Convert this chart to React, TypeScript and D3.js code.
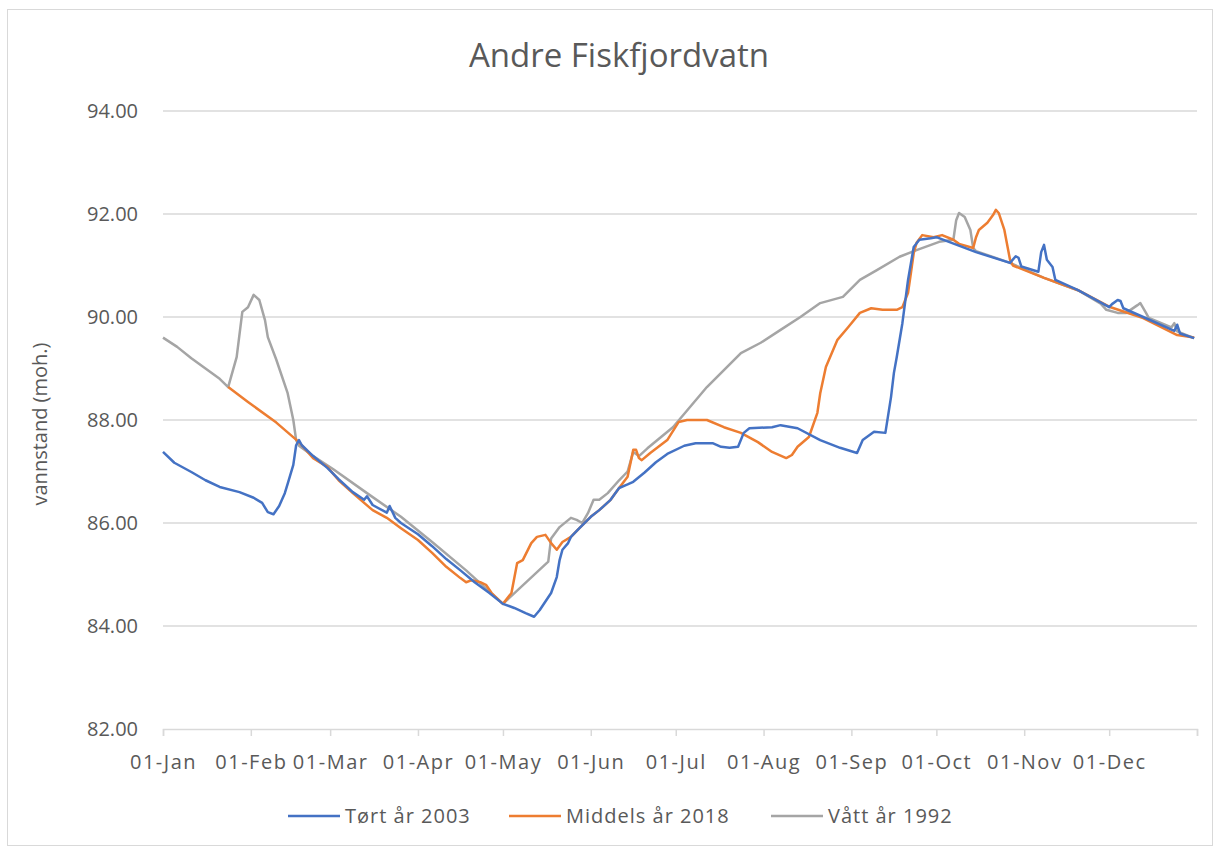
import React, { useRef, useEffect } from 'react';
import * as d3 from 'd3';

// day of year (0 = 01-Jan) and water level (moh.)
const tortDays = [0, 4, 10, 15, 20, 27, 32, 35, 37, 39, 41, 43, 44, 46, 47, 48, 49, 53, 58, 62, 67, 71, 72, 74, 79, 80, 82, 84, 90, 95, 100, 105, 110, 115, 120, 124, 128, 131, 133, 137, 139, 140, 141, 143, 144, 147, 151, 154, 158, 161, 164, 166, 170, 174, 178, 184, 188, 194, 197, 200, 203, 205, 207, 215, 218, 224, 232, 239, 245, 247, 251, 255, 257, 258, 259, 261, 263, 265, 267, 271, 273, 287, 299, 301, 302, 303, 309, 310, 311, 312, 314, 315, 323, 334, 335, 337, 338, 339, 346, 357, 358, 359, 364];
const tortLevels = [87.38, 87.17, 86.99, 86.83, 86.7, 86.6, 86.49, 86.39, 86.21, 86.17, 86.33, 86.58, 86.76, 87.13, 87.51, 87.61, 87.51, 87.3, 87.07, 86.85, 86.6, 86.45, 86.52, 86.35, 86.2, 86.33, 86.1, 86.0, 85.78, 85.55, 85.3, 85.08, 84.85, 84.65, 84.43, 84.35, 84.25, 84.18, 84.31, 84.64, 84.95, 85.28, 85.48, 85.61, 85.73, 85.9, 86.12, 86.25, 86.45, 86.68, 86.75, 86.8, 86.98, 87.18, 87.34, 87.5, 87.55, 87.55, 87.48, 87.46, 87.48, 87.75, 87.84, 87.86, 87.9, 87.84, 87.61, 87.46, 87.36, 87.61, 87.77, 87.75, 88.45, 88.91, 89.22, 89.88, 90.72, 91.36, 91.5, 91.53, 91.55, 91.26, 91.05, 91.18, 91.15, 90.98, 90.88, 91.26, 91.4, 91.11, 90.97, 90.72, 90.52, 90.19, 90.25, 90.33, 90.31, 90.17, 90.0, 89.73, 89.85, 89.68, 89.59];

const middelsDays = [23, 30, 40, 48, 53, 58, 62, 67, 74, 79, 84, 90, 95, 100, 105, 107, 109, 112, 114, 116, 120, 123, 125, 127, 130, 132, 135, 137, 139, 141, 144, 147, 151, 154, 158, 161, 164, 166, 167, 168, 169, 172, 178, 182, 185, 192, 198, 204, 210, 215, 220, 222, 224, 228, 231, 232, 234, 238, 242, 246, 250, 254, 259, 261, 263, 264, 265, 266, 268, 272, 275, 279, 281, 286, 287, 288, 291, 293, 294, 295, 297, 299, 300, 311, 323, 334, 346, 358, 364];
const middelsLevels = [88.64, 88.35, 87.95, 87.57, 87.26, 87.09, 86.83, 86.58, 86.25, 86.1, 85.9, 85.67, 85.42, 85.15, 84.93, 84.85, 84.89, 84.85, 84.8, 84.64, 84.43, 84.64, 85.22, 85.28, 85.61, 85.73, 85.77, 85.61, 85.48, 85.63, 85.73, 85.9, 86.12, 86.25, 86.45, 86.68, 86.9, 87.42, 87.42, 87.26, 87.22, 87.36, 87.61, 87.96, 88.0, 88.0, 87.86, 87.75, 87.57, 87.38, 87.26, 87.32, 87.48, 87.67, 88.14, 88.52, 89.03, 89.55, 89.81, 90.08, 90.17, 90.14, 90.14, 90.19, 90.47, 90.85, 91.24, 91.44, 91.59, 91.55, 91.59, 91.5, 91.42, 91.34, 91.55, 91.69, 91.83, 91.98, 92.08, 92.02, 91.69, 91.11, 91.0, 90.76, 90.52, 90.2, 89.98, 89.65, 89.6];

const vattDays = [0, 5, 10, 15, 20, 23, 26, 28, 30, 32, 34, 36, 37, 40, 44, 46, 47, 48, 53, 60, 72, 84, 95, 107, 120, 136, 137, 140, 144, 146, 148, 150, 152, 154, 157, 161, 164, 166, 168, 171, 180, 192, 204, 211, 218, 225, 232, 240, 246, 252, 260, 266, 274, 279, 280, 281, 283, 285, 286, 287, 299, 311, 323, 331, 333, 337, 340, 344, 345, 347, 348, 356, 357, 358, 364];
const vattLevels = [89.6, 89.42, 89.2, 89.0, 88.8, 88.64, 89.22, 90.1, 90.19, 90.43, 90.33, 89.94, 89.61, 89.17, 88.52, 88.0, 87.61, 87.5, 87.3, 87.05, 86.58, 86.12, 85.63, 85.08, 84.43, 85.25, 85.7, 85.92, 86.1, 86.06, 86.0, 86.19, 86.45, 86.45, 86.58, 86.83, 87.0, 87.38, 87.3, 87.45, 87.86, 88.64, 89.3, 89.5, 89.75, 90.0, 90.27, 90.39, 90.72, 90.91, 91.17, 91.3, 91.46, 91.5, 91.88, 92.02, 91.94, 91.69, 91.34, 91.28, 91.05, 90.76, 90.52, 90.26, 90.14, 90.08, 90.08, 90.23, 90.27, 90.08, 89.98, 89.8, 89.88, 89.72, 89.59];

const yTicks = [82, 84, 86, 88, 90, 92, 94];
const seriesNames = ['Tørt år 2003', 'Middels år 2018', 'Vått år 1992'];
const seriesColors = ['#4472C4', '#ED7D31', '#A5A5A5'];

const App = () => {
  const ref = useRef<SVGSVGElement>(null);
  const width = 1218;
  const height = 851;

  useEffect(() => {
    const svg = d3.select(ref.current);
    svg.selectAll('*').remove();

    const font = "'Open Sans', sans-serif";
    const textColor = '#595959';
    const gridColor = '#d9d9d9';

    svg.append('rect')
      .attr('x', 7.5).attr('y', 9.5)
      .attr('width', 1205).attr('height', 836)
      .attr('fill', 'white').attr('stroke', gridColor);

    const start = new Date(2019, 0, 1);
    const end = new Date(2020, 0, 1);
    const day = (d: number) => d3.timeDay.offset(start, d);

    const x = d3.scaleTime().domain([start, end]).range([163, 1197]);
    const y = d3.scaleLinear().domain([82, 94]).range([729, 111]);

    // title
    svg.append('text')
      .attr('x', 619).attr('y', 67)
      .attr('text-anchor', 'middle')
      .style('font-family', font).style('font-size', '33px')
      .attr('fill', textColor)
      .text('Andre Fiskfjordvatn');

    // grid
    svg.append('g').selectAll('line')
      .data(yTicks.filter(t => t !== 82))
      .enter().append('line')
      .attr('x1', 163).attr('x2', 1197)
      .attr('y1', d => y(d)).attr('y2', d => y(d))
      .attr('stroke', gridColor).attr('stroke-width', 1.5);

    // y axis labels
    svg.append('g').selectAll('text')
      .data(yTicks)
      .enter().append('text')
      .attr('x', 138).attr('y', d => y(d))
      .attr('dy', '0.35em')
      .attr('text-anchor', 'end')
      .style('font-family', font).style('font-size', '20px')
      .attr('fill', textColor)
      .text(d => d3.format('.2f')(d));

    // x axis
    const xAxis = d3.axisBottom(x)
      .tickValues(d3.timeMonth.range(start, d3.timeDay.offset(end, 1)))
      .tickSize(7)
      .tickFormat(d => (+d < +end ? d3.timeFormat('%d-%b')(d as Date) : ''));
    const xg = svg.append('g').attr('transform', `translate(0, ${y(82)})`).call(xAxis);
    xg.select('.domain').attr('stroke', gridColor).attr('stroke-width', 1.5);
    xg.selectAll('.tick line').attr('stroke', gridColor).attr('stroke-width', 1.5);
    xg.selectAll('.tick text')
      .attr('y', 26)
      .style('font-family', font).style('font-size', '20px')
      .style('letter-spacing', '1.5px')
      .attr('fill', textColor);

    // y axis title
    svg.append('g').attr('transform', `translate(40, ${y(88) + 4})`).append('text')
      .attr('transform', 'rotate(-90)')
      .attr('text-anchor', 'middle')
      .attr('dy', '0.35em')
      .style('font-family', font).style('font-size', '20px')
      .attr('fill', textColor)
      .text('vannstand (moh.)');

    const line = d3.line<[number, number]>()
      .x(d => x(day(d[0])))
      .y(d => y(d[1]))
      .curve(d3.curveLinear);

    const series: [number, number][][] = [
      tortDays.map((d, i) => [d, tortLevels[i]]),
      middelsDays.map((d, i) => [d, middelsLevels[i]]),
      vattDays.map((d, i) => [d, vattLevels[i]]),
    ];

    // draw order: wet, average, dry on top
    [2, 1, 0].forEach(i => {
      svg.append('path')
        .datum(series[i])
        .attr('d', line)
        .style('fill', 'none')
        .style('stroke', seriesColors[i])
        .style('stroke-width', 2.5)
        .style('stroke-linejoin', 'round');
    });

    // legend
    const legendX = [288, 509, 771];
    const legend = svg.append('g').selectAll('g')
      .data(seriesNames)
      .enter().append('g')
      .attr('transform', (d, i) => `translate(${legendX[i]}, 816)`);
    legend.append('line')
      .attr('x1', 0).attr('x2', 52)
      .attr('stroke', (d, i) => seriesColors[i])
      .attr('stroke-width', 2.5);
    legend.append('text')
      .attr('x', 57).attr('dy', '0.35em')
      .style('font-family', font).style('font-size', '20px')
      .style('letter-spacing', '1px')
      .attr('fill', textColor)
      .text(d => d);
  }, []);

  return (
    <div style={{ position: 'absolute', left: 0, top: 0 }}>
      <svg ref={ref} width={width} height={height} style={{ display: 'block', background: 'white' }}></svg>
    </div>
  );
};

export default App;
